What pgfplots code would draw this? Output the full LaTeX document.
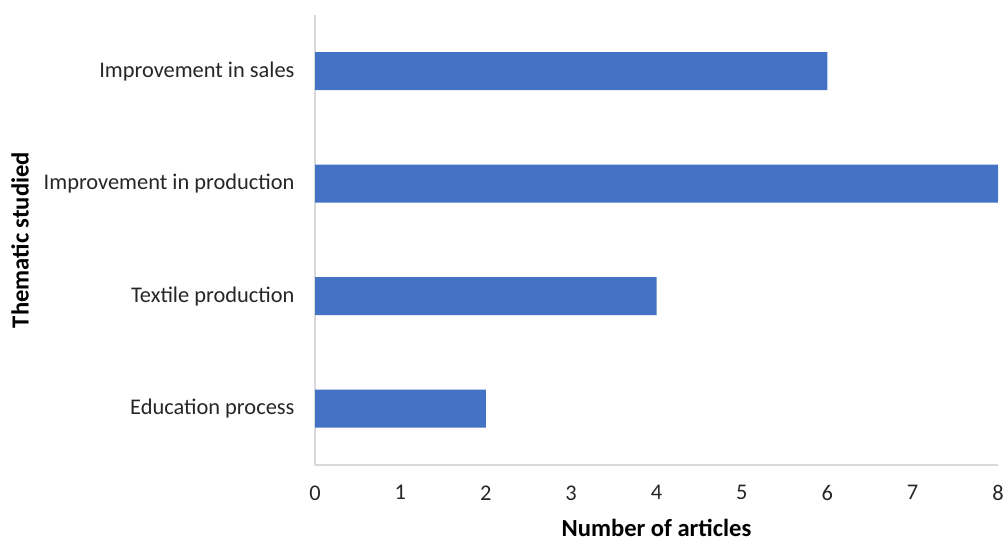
\documentclass[border=0pt]{standalone}
\usepackage{pgfplots}
\pgfplotsset{compat=1.18}
\usepackage{fontspec}
\setmainfont{Carlito}
\definecolor{barblue}{HTML}{4472C4}
\definecolor{axgray}{HTML}{D9D9D9}
\definecolor{txt}{HTML}{262626}
\begin{document}
\begin{tikzpicture}[x=1pt,y=1pt]
\path[use as bounding box] (0,0) rectangle (1006,543);
\begin{axis}[
    at={(315pt,78pt)}, anchor=south west,
    scale only axis, width=683pt, height=450pt,
    xbar, bar width=38pt,
    xmin=0, xmax=8, ymin=-0.5, ymax=3.5,
    xtick={0,1,...,8},
    ytick={0,1,2,3},
    yticklabels={Education process, Textile production, Improvement in production, Improvement in sales},
    axis x line*=bottom, axis y line*=left,
    axis line style={axgray, line width=1.5pt},
    major tick length=0pt,
    tick label style={font=\fontsize{22.4}{26}\selectfont, text=txt},
    /pgf/number format/assume math mode=true,
    xticklabel style={yshift=-17pt},
    yticklabel style={xshift=-17pt},
    xlabel={\bfseries Number of articles},
    ylabel={\bfseries Thematic studied},
    label style={font=\fontsize{24.6}{28}\selectfont, text=black},
    xlabel style={at={(axis description cs:0.5,0)}, anchor=center, yshift=-63pt},
    ylabel style={at={(axis description cs:0,0.5)}, anchor=center, rotate=0, yshift=295pt},
]
\addplot[draw=none, fill=barblue] coordinates {(2,0) (4,1) (8,2) (6,3)};
\end{axis}
\end{tikzpicture}
\end{document}
